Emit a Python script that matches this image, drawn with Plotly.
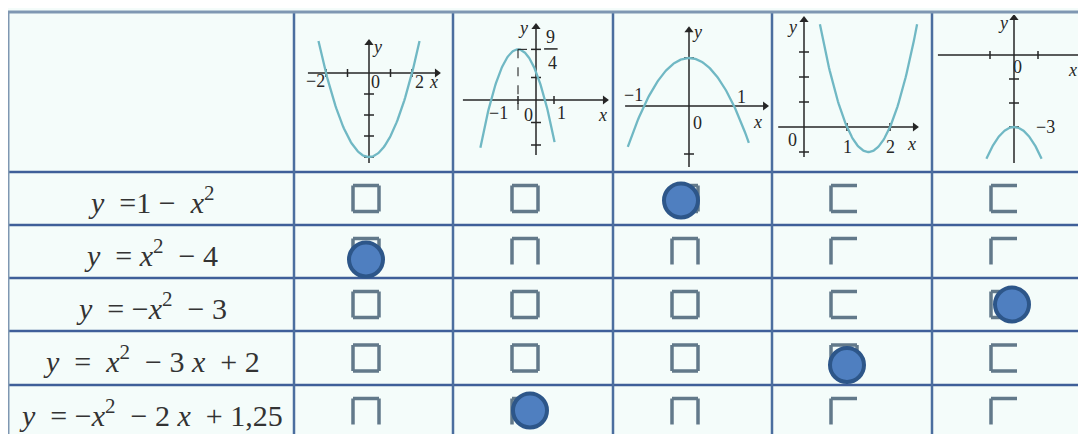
import plotly.graph_objects as go
import numpy as np

W, H = 1086, 434
OFF = 8  # the page body margin shifts the figure by this much
NB = "\u00a0"

# ---- data ----
EQUATIONS = [
    f"<i>y</i>{NB}{NB}=1{NB}−{NB}{NB}<i>x</i><sup>2</sup>",
    f"<i>y</i>{NB}{NB}={NB}<i>x</i><sup>2</sup>{NB}{NB}−{NB}4",
    f"<i>y</i>{NB}{NB}={NB}−<i>x</i><sup>2</sup>{NB}{NB}−{NB}3",
    f"<i>y</i>{NB}{NB}={NB}{NB}<i>x</i><sup>2</sup>{NB}{NB}−{NB}3{NB}<i>x</i>{NB}{NB}+{NB}2",
    f"<i>y</i>{NB}{NB}={NB}−<i>x</i><sup>2</sup>{NB}{NB}−{NB}2{NB}<i>x</i>{NB}{NB}+{NB}1,25",
]
# parabolas y = a x^2 + b x + c shown in the header columns
COEFFS = [(1, 0, -4), (-1, -2, 1.25), (-1, 0, 1), (1, -3, 2), (-1, 0, -3)]
CURVE_X = [(-2.35, 2.35), (-3.09, 1.03), (-1.36, 1.33), (0.37, 2.63), (-1.15, 1.15)]
AXIS_X = [(-2.84, 3.16), (-4.06, 3.83), (-1.42, 1.69), (-0.6, 2.58), (-3.17, 2.88)]
AXIS_Y = [(-4.29, 1.43), (-2.44, 3.24), (-1.27, 1.58), (-0.3, 1.07), (-4.5, 1.54)]
X_TICKS = [[-2, -1, 1, 2], [-1, 1], [], [1, 2], [-1, 1]]
Y_TICKS = [[-1, -2, -3, -4], [2.25, 1, -1, -2], [1, -1], [0.75, 0.5, 0.25, -0.25], [-1, -2, -3]]
LABELS = [
    [("<i>y</i>", 0.37, 1.24), ("−2", -2.5, -0.38), ("0", 0.28, -0.43), ("2", 2.33, -0.43), ("<i>x</i>", 3.0, -0.43)],
    [("<i>y</i>", -0.72, 3.2), ("9", 0.8, 2.78), ("4", 0.89, 1.65), ("−1", -2.1, -0.58), ("0", -0.44, -0.67),
     ("1", 1.44, -0.58), ("<i>x</i>", 3.67, -0.67)],
    [("<i>y</i>", 0.18, 1.54), ("−1", -1.24, 0.23), ("1", 1.16, 0.19), ("0", 0.18, -0.35), ("<i>x</i>", 1.53, -0.33)],
    [("<i>y</i>", -0.28, 1.0), ("0", -0.26, -0.13), ("1", 1.0, -0.2), ("2", 2.02, -0.2), ("<i>x</i>", 2.49, -0.17)],
    [("<i>y</i>", -0.46, 1.33), ("0", 0.13, -0.5), ("−3", 1.3, -3.0), ("<i>x</i>", 2.42, -0.63)],
]
# column of the marked answer for each row
ANSWERS = [2, 0, 4, 3, 1]
# visible sides of each printed checkbox (scan is patchy)
BOX_SIDES = [
    ["tlrb", "tlrb", "tlrb", "tlb", "tlb"],
    ["tlrb", "tlr", "tlr", "tl", "tl"],
    ["tlrb", "tlrb", "tlrb", "tlb", "tlb"],
    ["tlrb", "tlrb", "tlrb", "tlrb", "tlb"],
    ["tlr", "tlr", "tlr", "tl", "tl"],
]

# ---- layout geometry (screen pixels) ----
COL_EDGES = [8, 294, 453, 613, 772, 932, 1092]
ROW_EDGES = [12, 172, 225, 278, 331, 385, 438]
ORIGINS = [(369, 73), (536, 100), (689, 106), (804, 127), (1014, 55)]
UNITS = [(21.5, 21), (18, 22.5), (45, 48), (43, 100), (24, 24)]
DOT_SHIFT = [(-4, 2), (0, 8), (8, 0), (3, 7), (5, -1)]
BG = "#f4fcfa"
CURVE = "#70b8c4"
INK = "#262626"
RIGHT = W + OFF
BOTTOM = H + OFF

fig = go.Figure()

# table grid
hx, hy = [], []
for y in ROW_EDGES[1:-1]:
    hx += [COL_EDGES[0], RIGHT, None]
    hy += [y, y, None]
fig.add_trace(go.Scatter(x=hx, y=hy, mode="lines", line=dict(color="#3f5f99", width=2.5),
                         hoverinfo="skip", xaxis="x", yaxis="y"))
vx, vy = [], []
for x in COL_EDGES[1:-1]:
    vx += [x, x, None]
    vy += [ROW_EDGES[0], BOTTOM, None]
fig.add_trace(go.Scatter(x=vx, y=vy, mode="lines", line=dict(color="#4b6e9f", width=2.5),
                         hoverinfo="skip", xaxis="x", yaxis="y"))
fig.add_trace(go.Scatter(x=[RIGHT, COL_EDGES[0], COL_EDGES[0]], y=[ROW_EDGES[0], ROW_EDGES[0], BOTTOM],
                         mode="lines", line=dict(color="#7f97b2", width=3),
                         hoverinfo="skip", xaxis="x", yaxis="y"))

# equations in the first column
for i, eq in enumerate(EQUATIONS):
    yc = (ROW_EDGES[i + 1] + ROW_EDGES[i + 2]) / 2
    fig.add_annotation(x=(COL_EDGES[0] + COL_EDGES[1]) / 2, y=yc + 1, xref="x", yref="y",
                       text=eq, showarrow=False,
                       font=dict(family="Liberation Serif", size=30, color="#333333"))

# checkboxes
half = 13
bx, by = [], []
for r in range(5):
    yc = (ROW_EDGES[r + 1] + ROW_EDGES[r + 2]) / 2
    for c in range(5):
        xc = COL_EDGES[c + 1] + 72
        segs = {
            "t": ([xc - half, xc + half], [yc - half, yc - half]),
            "b": ([xc - half, xc + half], [yc + half, yc + half]),
            "l": ([xc - half, xc - half], [yc - half, yc + half]),
            "r": ([xc + half, xc + half], [yc - half, yc + half]),
        }
        for s in BOX_SIDES[r][c]:
            sx, sy = segs[s]
            bx += sx + [None]
            by += sy + [None]
fig.add_trace(go.Scatter(x=bx, y=by, mode="lines", line=dict(color="#62798a", width=3.5),
                         hoverinfo="skip", xaxis="x", yaxis="y"))

# answer dots
dx, dy = [], []
for r, c in enumerate(ANSWERS):
    yc = (ROW_EDGES[r + 1] + ROW_EDGES[r + 2]) / 2
    xc = COL_EDGES[c + 1] + 72
    dx.append(xc + DOT_SHIFT[r][0])
    dy.append(yc + DOT_SHIFT[r][1])
fig.add_trace(go.Scatter(x=dx, y=dy, mode="markers",
                         marker=dict(size=34, color="#4f7fc0", line=dict(color="#2d5689", width=4)),
                         hoverinfo="skip", xaxis="x", yaxis="y"))

# mini graphs in the header
for k in range(5):
    ax = k + 2
    xa, ya = f"x{ax}", f"y{ax}"
    ox, oy = ORIGINS[k]
    ux, uy = UNITS[k]
    x0p = COL_EDGES[k + 1] + 3
    x1p = min(COL_EDGES[k + 2] - 3, RIGHT)
    y0p, y1p = ROW_EDGES[0] + 3, ROW_EDGES[1] - 3
    fig.update_layout({
        f"xaxis{ax}": dict(domain=[(x0p - OFF) / W, (x1p - OFF) / W],
                           range=[(x0p - ox) / ux, (x1p - ox) / ux],
                           anchor=ya, visible=False, fixedrange=True),
        f"yaxis{ax}": dict(domain=[1 - (y1p - OFF) / H, 1 - (y0p - OFF) / H],
                           range=[(oy - y1p) / uy, (oy - y0p) / uy],
                           anchor=xa, visible=False, fixedrange=True),
    })

    # axes and ticks
    axl, axr = AXIS_X[k]
    ayb, ayt = AXIS_Y[k]
    lx = [axl, axr, None, 0, 0, None]
    ly = [0, 0, None, ayb, ayt, None]
    for t in X_TICKS[k]:
        lx += [t, t, None]
        ly += [-4 / uy, 4 / uy, None]
    for t in Y_TICKS[k]:
        lx += [-5 / ux, 5 / ux, None]
        ly += [t, t, None]
    fig.add_trace(go.Scatter(x=lx, y=ly, mode="lines", line=dict(color=INK, width=1.5),
                             hoverinfo="skip", xaxis=xa, yaxis=ya))
    fig.add_trace(go.Scatter(x=[axr, 0], y=[0, ayt], mode="markers",
                             marker=dict(symbol=["triangle-right", "triangle-up"], size=8, color=INK),
                             hoverinfo="skip", xaxis=xa, yaxis=ya))

    # parabola
    a, b, c = COEFFS[k]
    xs = np.linspace(CURVE_X[k][0], CURVE_X[k][1], 120)
    fig.add_trace(go.Scatter(x=xs, y=a * xs ** 2 + b * xs + c, mode="lines",
                             line=dict(color=CURVE, width=2.3),
                             hoverinfo="skip", xaxis=xa, yaxis=ya))

    # vertex guides for y = -x^2 - 2x + 1,25
    if k == 1:
        vxv = -b / (2 * a)
        vyv = a * vxv ** 2 + b * vxv + c
        fig.add_trace(go.Scatter(x=[vxv, vxv, None, vxv, 0], y=[vyv, -0.45, None, vyv, vyv],
                                 mode="lines", line=dict(color=INK, width=1.1, dash="dash"),
                                 hoverinfo="skip", xaxis=xa, yaxis=ya))
        fig.add_trace(go.Scatter(x=[0.45, 1.2], y=[2.27, 2.27], mode="lines",
                                 line=dict(color=INK, width=1.5),
                                 hoverinfo="skip", xaxis=xa, yaxis=ya))

    for text, tx, ty in LABELS[k]:
        fig.add_annotation(x=tx, y=ty, xref=xa, yref=ya, text=text, showarrow=False,
                           font=dict(family="Liberation Serif", size=18, color=INK))

fig.update_layout(
    width=W, height=H,
    margin=dict(l=0, r=0, t=0, b=0),
    paper_bgcolor=BG, plot_bgcolor=BG,
    showlegend=False,
    xaxis=dict(domain=[0, 1], range=[OFF, RIGHT], visible=False, fixedrange=True),
    yaxis=dict(domain=[0, 1], range=[BOTTOM, OFF], visible=False, fixedrange=True),
)

fig.write_html("out.html")
